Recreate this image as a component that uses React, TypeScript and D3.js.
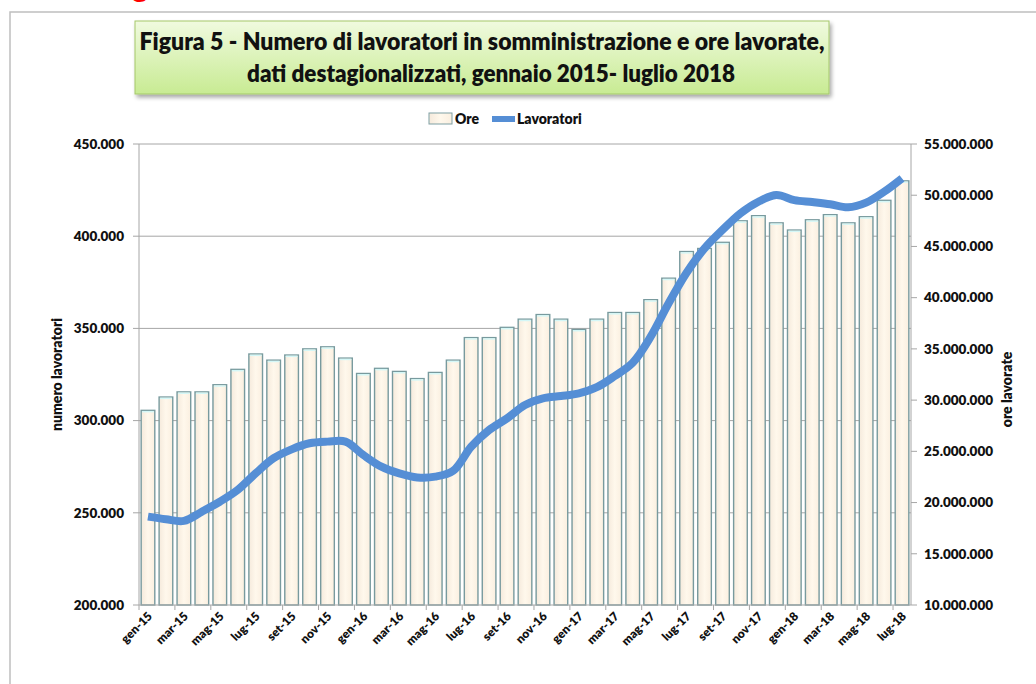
import * as d3 from "d3";
import React from "react";

// mesi, gennaio 2015 - luglio 2018
const mesi = [
  "gen-15", "feb-15", "mar-15", "apr-15", "mag-15", "giu-15", "lug-15", "ago-15", "set-15", "ott-15", "nov-15", "dic-15",
  "gen-16", "feb-16", "mar-16", "apr-16", "mag-16", "giu-16", "lug-16", "ago-16", "set-16", "ott-16", "nov-16", "dic-16",
  "gen-17", "feb-17", "mar-17", "apr-17", "mag-17", "giu-17", "lug-17", "ago-17", "set-17", "ott-17", "nov-17", "dic-17",
  "gen-18", "feb-18", "mar-18", "apr-18", "mag-18", "giu-18", "lug-18",
];

// ore lavorate (milioni)
const oreMln = [
  29.0, 30.3, 30.8, 30.8, 31.5, 33.0, 34.5, 33.9, 34.4, 35.0, 35.2, 34.1,
  32.6, 33.1, 32.8, 32.1, 32.7, 33.9, 36.1, 36.1, 37.1, 37.9, 38.35, 37.9,
  36.9, 37.9, 38.55, 38.55, 39.8, 41.9, 44.5, 44.8, 45.4, 47.5, 48.0, 47.3,
  46.6, 47.6, 48.1, 47.3, 47.9, 49.5, 51.4,
];

// numero lavoratori (migliaia)
const lavoratoriMigl = [
  247.9, 246.5, 245.6, 250.6, 256.0, 262.4, 271.4, 279.6, 284.4, 287.7, 288.6, 288.6,
  281.3, 275.0, 271.4, 269.2, 269.6, 272.8, 285.8, 294.9, 301.2, 308.5, 312.1, 313.3,
  314.8, 318.1, 324.2, 331.4, 345.5, 363.6, 380.2, 393.4, 403.4, 412.4, 418.7, 422.3,
  419.6, 418.5, 417.3, 415.7, 418.2, 424.1, 431.4,
];

const leftTicks = [200000, 250000, 300000, 350000, 400000, 450000];
const rightTicks = [10e6, 15e6, 20e6, 25e6, 30e6, 35e6, 40e6, 45e6, 50e6, 55e6];

const titleLines = [
  "Figura 5 - Numero di lavoratori in somministrazione e ore lavorate,",
  "dati destagionalizzati, gennaio 2015- luglio 2018",
];

const FONT = "Lato, 'Open Sans', sans-serif";

export default function App() {
  const width = 1036;
  const height = 684;
  const margin = { top: 144, right: 125, bottom: 79, left: 139 };
  const plotW = width - margin.left - margin.right;
  const plotH = height - margin.top - margin.bottom;

  const it = d3.formatLocale({ decimal: ",", thousands: ".", grouping: [3], currency: ["", "€"] });
  const fmt = it.format(",.0f");

  const x = d3.scaleBand<string>().domain(mesi).range([0, plotW]).paddingInner(0.24).paddingOuter(0.12);
  const band = plotW / mesi.length;
  const yL = d3.scaleLinear().domain([200000, 450000]).range([plotH, 0]);
  const yR = d3.scaleLinear().domain([10e6, 55e6]).range([plotH, 0]);

  const line = d3
    .line<number>()
    .x((_, i) => (x(mesi[i]) as number) + x.bandwidth() / 2)
    .y((d) => yL(d * 1000))
    .curve(d3.curveCatmullRom.alpha(0.5));

  const grey = "#a6a6a6";

  return (
    <div style={{ position: "absolute", left: 0, top: 0 }}>
      <svg width={width} height={height} style={{ display: "block", background: "#fff" }}>
        <defs>
          <linearGradient id="titleGrad" x1="0" y1="0" x2="0" y2="1">
            <stop offset="0" stopColor="#f0fadf" />
            <stop offset="1" stopColor="#c8eb93" />
          </linearGradient>
          <linearGradient id="barGrad" x1="0" y1="0" x2="1" y2="0">
            <stop offset="0" stopColor="#f5eadc" />
            <stop offset="0.5" stopColor="#fff8ec" />
            <stop offset="1" stopColor="#faefe0" />
          </linearGradient>
          <filter id="shadow" x="-5%" y="-10%" width="115%" height="140%">
            <feGaussianBlur in="SourceAlpha" stdDeviation="2" />
            <feOffset dx="2" dy="3" result="b" />
            <feComponentTransfer>
              <feFuncA type="linear" slope="0.35" />
            </feComponentTransfer>
            <feMerge>
              <feMergeNode />
              <feMergeNode in="SourceGraphic" />
            </feMerge>
          </filter>
        </defs>

        {/* red heading, cut off at the top as in the original page */}
        <text x={132} y={-3} fill="#ff0000" fontFamily={FONT} fontWeight="bold" fontSize={30}>g</text>

        {/* outer frame */}
        <rect x={10} y={12} width={1060} height={700} fill="none" stroke="#bfbfbf" strokeWidth={1.5} />

        {/* title box */}
        <rect x={135} y={21} width={694} height={73} fill="url(#titleGrad)" stroke="#a5c86a" strokeWidth={1} filter="url(#shadow)" />
        <text x={482} y={50} textAnchor="middle" fontFamily={FONT} fontWeight={800} fontSize={24} fill="#111"
          textLength={685} lengthAdjust="spacingAndGlyphs">{titleLines[0]}</text>
        <text x={491} y={82} textAnchor="middle" fontFamily={FONT} fontWeight={800} fontSize={24} fill="#111"
          textLength={488} lengthAdjust="spacingAndGlyphs">{titleLines[1]}</text>

        {/* legend */}
        <g fontFamily={FONT} fontWeight={800} fontSize={14} fill="#111">
          <rect x={429} y={113} width={23} height={11} fill="url(#barGrad)" stroke="#7f9fa3" strokeWidth={1} />
          <text x={455} y={124}>Ore</text>
          <rect x={492} y={116} width={23} height={6} fill="#558ed5" />
          <text x={517} y={124}>Lavoratori</text>
        </g>

        <g transform={`translate(${margin.left},${margin.top})`}>
          {/* gridlines */}
          {leftTicks.slice(1).map((t) => (
            <line key={t} x1={0} x2={plotW} y1={yL(t)} y2={yL(t)} stroke={grey} strokeWidth={1} />
          ))}

          {/* bars: ore */}
          {oreMln.map((v, i) => {
            const bx = x(mesi[i]) as number;
            const by = yR(v * 1e6);
            return (
              <g key={mesi[i]}>
                <rect x={bx} y={by} width={x.bandwidth()} height={plotH - by} fill="url(#barGrad)"
                  stroke="#789a9e" strokeWidth={1.4} />
                <line x1={bx + 1} x2={bx + x.bandwidth() - 1} y1={by + 1.3} y2={by + 1.3} stroke="#d4f7f7" strokeWidth={1.5} />
              </g>
            );
          })}

          {/* line: lavoratori */}
          <path d={line(lavoratoriMigl) ?? ""} fill="none" stroke="#558ed5" strokeWidth={8} strokeLinejoin="round" />

          {/* axes */}
          <line x1={0} x2={0} y1={0} y2={plotH} stroke={grey} />
          <line x1={plotW} x2={plotW} y1={0} y2={plotH} stroke={grey} />
          <line x1={0} x2={plotW} y1={plotH} y2={plotH} stroke={grey} />

          <g fontFamily={FONT} fontWeight={800} fontSize={13.5} fill="#111">
            {leftTicks.map((t) => (
              <g key={t} transform={`translate(0,${yL(t)})`}>
                <line x1={-6} x2={0} stroke={grey} />
                <text x={-15} dy="0.35em" textAnchor="end">{fmt(t)}</text>
              </g>
            ))}
            {rightTicks.map((t) => (
              <g key={t} transform={`translate(${plotW},${yR(t)})`}>
                <line x1={0} x2={6} stroke={grey} />
                <text x={13} dy="0.35em" textAnchor="start">{fmt(t)}</text>
              </g>
            ))}
          </g>

          {/* x ticks every two months */}
          {d3.range(0, mesi.length + 1, 2).map((k) => (
            <line key={k} x1={k * band} x2={k * band} y1={plotH} y2={plotH + 5} stroke={grey} />
          ))}
          <g fontFamily={FONT} fontWeight={800} fontSize={12} fill="#111">
            {mesi.filter((_, i) => i % 2 === 0).map((m) => {
              const cx = (x(m) as number) + x.bandwidth() / 2;
              return (
                <text key={m} textAnchor="end" transform={`translate(${cx + 5},${plotH + 12}) rotate(-45)`}>{m}</text>
              );
            })}
          </g>

          {/* axis titles */}
          <text transform={`translate(-77,${plotH / 2}) rotate(-90)`} textAnchor="middle" fontFamily={FONT}
            fontWeight={800} fontSize={14} fill="#111">numero lavoratori</text>
          <text transform={`translate(${plotW + 101},${plotH / 2 + 15}) rotate(-90)`} textAnchor="middle" fontFamily={FONT}
            fontWeight={800} fontSize={14} fill="#111">ore lavorate</text>
        </g>
      </svg>
    </div>
  );
}
